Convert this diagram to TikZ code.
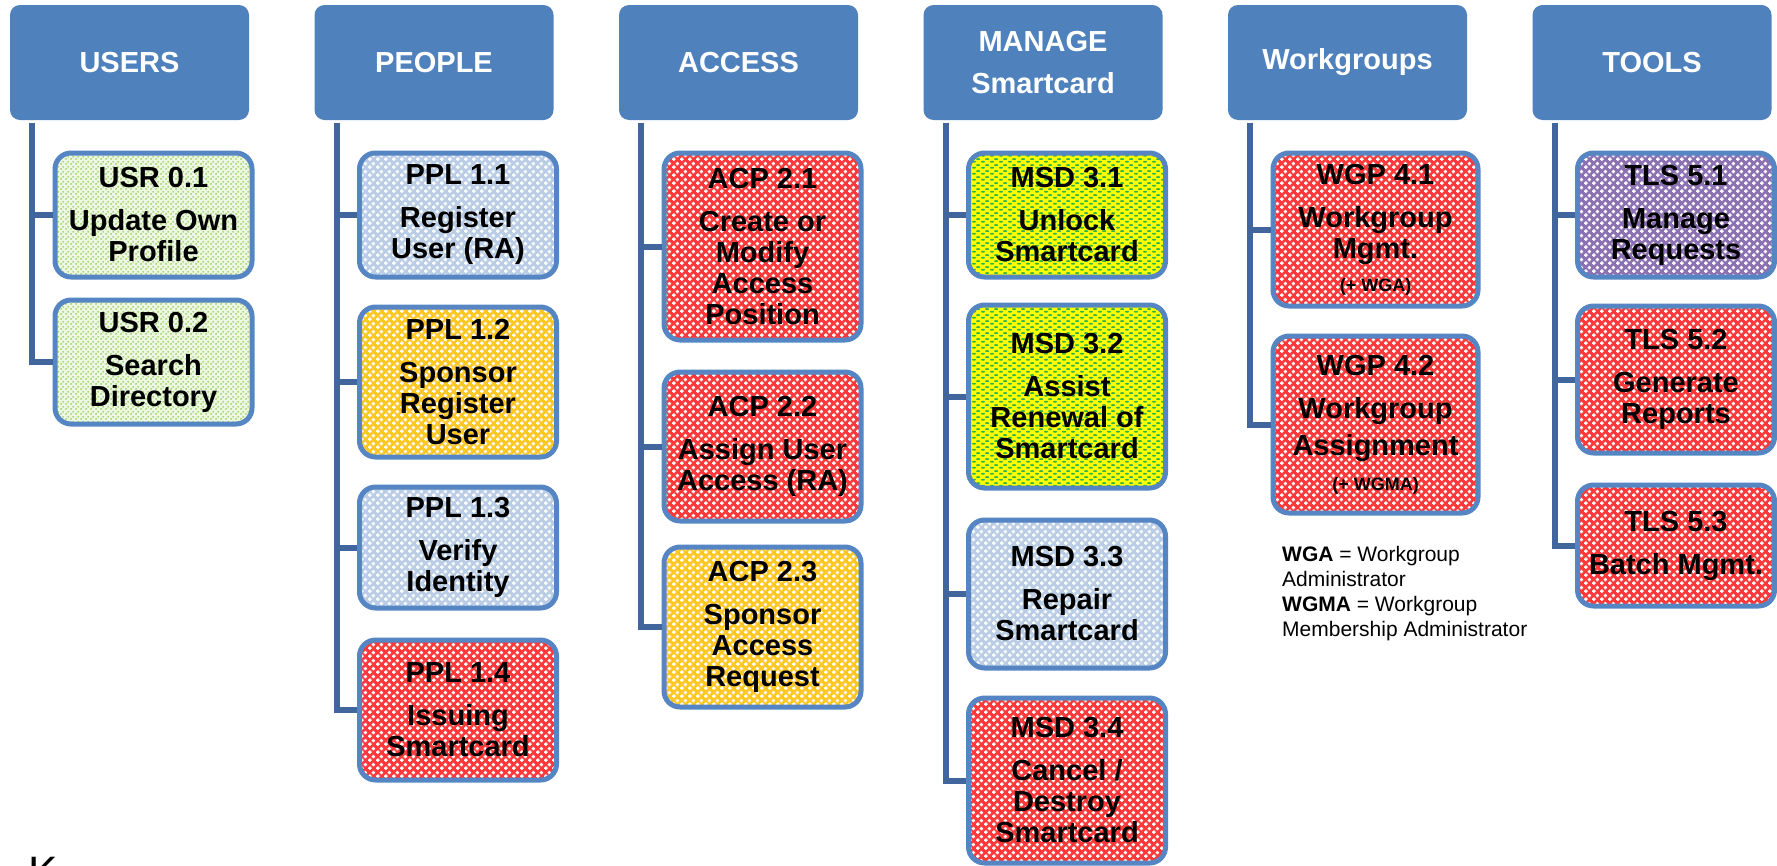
\documentclass[tikz,border=0pt]{standalone}
\usepackage{fontspec}
\setmainfont{Liberation Sans}
\usetikzlibrary{patterns}

\definecolor{hblue}{HTML}{4F81BD}
\definecolor{lcol}{HTML}{41669E}
\definecolor{bcol}{HTML}{5585C2}
\definecolor{redbase}{HTML}{FF3838}
\definecolor{bluebase}{HTML}{B9CDE6}
\definecolor{yelbase}{HTML}{FFC625}
\definecolor{purbase}{HTML}{8C70B4}
\definecolor{grnbase}{HTML}{EEF7E2}
\definecolor{grndot}{HTML}{8FCC58}
\definecolor{ygbase}{HTML}{FFFF00}
\definecolor{ygdash}{HTML}{2DB34A}

\pgfdeclarepatternformonly{sparkle}{\pgfqpoint{0pt}{0pt}}{\pgfqpoint{8pt}{8pt}}{\pgfqpoint{8pt}{8pt}}{%
  \pgfpathrectangle{\pgfqpoint{1.2pt}{0pt}}{\pgfqpoint{1.6pt}{4pt}}%
  \pgfpathrectangle{\pgfqpoint{0pt}{1.2pt}}{\pgfqpoint{4pt}{1.6pt}}%
  \pgfpathrectangle{\pgfqpoint{5.2pt}{4pt}}{\pgfqpoint{1.6pt}{4pt}}%
  \pgfpathrectangle{\pgfqpoint{4pt}{5.2pt}}{\pgfqpoint{4pt}{1.6pt}}%
  \pgfusepath{fill}}
\pgfdeclarepatternformonly{gdots}{\pgfqpoint{0pt}{0pt}}{\pgfqpoint{5pt}{5pt}}{\pgfqpoint{5pt}{5pt}}{%
  \pgfpathcircle{\pgfqpoint{1.25pt}{1.25pt}}{1.1pt}%
  \pgfpathcircle{\pgfqpoint{3.75pt}{3.75pt}}{1.1pt}%
  \pgfusepath{fill}}
\pgfdeclarepatternformonly{ygdashes}{\pgfqpoint{0pt}{0pt}}{\pgfqpoint{9pt}{6pt}}{\pgfqpoint{9pt}{6pt}}{%
  \pgfpathellipse{\pgfqpoint{2.25pt}{1.5pt}}{\pgfqpoint{2.3pt}{0pt}}{\pgfqpoint{0pt}{1.1pt}}%
  \pgfpathellipse{\pgfqpoint{6.75pt}{4.5pt}}{\pgfqpoint{2.3pt}{0pt}}{\pgfqpoint{0pt}{1.1pt}}%
  \pgfusepath{fill}}

\tikzset{
  hdr/.style={fill=hblue, rounded corners=10pt, minimum width=239pt, minimum height=115pt,
    text=white, font=\fontsize{29}{42}\selectfont\bfseries, align=center, inner sep=0pt},
  cbox/.style={draw=bcol, line width=5pt, rounded corners=16pt, minimum width=197pt,
    align=center, inner sep=0pt, font=\fontsize{29}{31}\selectfont\bfseries},
  cred/.style={cbox, preaction={fill=redbase}, pattern=sparkle, pattern color=white},
  cblue/.style={cbox, preaction={fill=bluebase}, pattern=sparkle, pattern color=white},
  cyel/.style={cbox, preaction={fill=yelbase}, pattern=sparkle, pattern color=white},
  cpur/.style={cbox, preaction={fill=purbase}, pattern=sparkle, pattern color=white},
  cgreen/.style={cbox, preaction={fill=grnbase}, pattern=gdots, pattern color=grndot},
  cyg/.style={cbox, preaction={fill=ygbase}, pattern=ygdashes, pattern color=ygdash},
  conn/.style={draw=lcol, line width=6pt}
}

\begin{document}
\begin{tikzpicture}[x=1pt, y=-1pt]
\useasboundingbox (0,0) rectangle (1777,865);

% headers
\node[hdr] (hU) at (129.5,62.5) {USERS};
\node[hdr] (hP) at (434,62.5) {PEOPLE};
\node[hdr] (hA) at (738.5,62.5) {ACCESS};
\node[hdr] (hM) at (1043,62.5) {MANAGE\\Smartcard};
\node[hdr] (hW) at (1347.5,62.5) {Workgroups};
\node[hdr] (hT) at (1652,62.5) {TOOLS};

% line tops
\coordinate (tU) at (32,123);
\coordinate (tP) at (336.5,123);
\coordinate (tA) at (641,123);
\coordinate (tM) at (945.5,123);
\coordinate (tW) at (1250,123);
\coordinate (tT) at (1554.5,123);

% USERS
\node[cgreen, minimum height=124pt] (u1) at (153.5,215) {USR 0.1\\[12pt]Update Own\\Profile};
\node[cgreen, minimum height=124pt] (u2) at (153.5,362) {USR 0.2\\[12pt]Search\\Directory};

% PEOPLE
\node[cblue, minimum height=124pt] (p1) at (458,215) {PPL 1.1\\[12pt]Register\\User (RA)};
\node[cyel, minimum height=150pt] (p2) at (458,382) {PPL 1.2\\[12pt]Sponsor\\Register\\User};
\node[cblue, minimum height=121pt] (p3) at (458,547.5) {PPL 1.3\\[12pt]Verify\\Identity};
\node[cred, minimum height=140pt] (p4) at (458,710) {PPL 1.4\\[12pt]Issuing\\Smartcard};

% ACCESS
\node[cred, minimum height=187pt] (a1) at (762.5,246.5) {ACP 2.1\\[12pt]Create or\\Modify\\Access\\Position};
\node[cred, minimum height=149pt] (a2) at (762.5,446.5) {ACP 2.2\\[12pt]Assign User\\Access (RA)};
\node[cyel, minimum height=160pt] (a3) at (762.5,627) {ACP 2.3\\[12pt]Sponsor\\Access\\Request};

% MANAGE
\node[cyg, minimum height=124pt] (m1) at (1067,215) {MSD 3.1\\[12pt]Unlock\\Smartcard};
\node[cyg, minimum height=183pt] (m2) at (1067,396.5) {MSD 3.2\\[12pt]Assist\\Renewal of\\Smartcard};
\node[cblue, minimum height=148pt] (m3) at (1067,594) {MSD 3.3\\[12pt]Repair\\Smartcard};
\node[cred, minimum height=165pt] (m4) at (1067,780.5) {MSD 3.4\\[12pt]Cancel /\\Destroy\\Smartcard};

% Workgroups
\node[cred, minimum width=205pt, minimum height=153pt] (w1) at (1375.5,229.5) {WGP 4.1\\[12pt]Workgroup\\Mgmt.\\[2pt]{\fontsize{18}{20}\selectfont (+ WGA)}};
\node[cred, minimum width=205pt, minimum height=177pt] (w2) at (1375.5,424.5) {WGP 4.2\\[12pt]Workgroup\\[6pt]Assignment\\[4pt]{\fontsize{18}{20}\selectfont (+ WGMA)}};

% TOOLS
\node[cpur, minimum height=124pt] (t1) at (1676,215) {TLS 5.1\\[12pt]Manage\\Requests};
\node[cred, minimum height=147pt] (t2) at (1676,379.5) {TLS 5.2\\[12pt]Generate\\Reports};
\node[cred, minimum height=121pt] (t3) at (1676,545.5) {TLS 5.3\\[12pt]Batch Mgmt.};

% connectors
\draw[conn] (tU) |- (u2.west);
\draw[conn] (tU |- u1.west) -- (u1.west);
\draw[conn] (tP) |- (p4.west);
\draw[conn] (tP |- p1.west) -- (p1.west);
\draw[conn] (tP |- p2.west) -- (p2.west);
\draw[conn] (tP |- p3.west) -- (p3.west);
\draw[conn] (tA) |- (a3.west);
\draw[conn] (tA |- a1.west) -- (a1.west);
\draw[conn] (tA |- a2.west) -- (a2.west);
\draw[conn] (tM) |- (m4.west);
\draw[conn] (tM |- m1.west) -- (m1.west);
\draw[conn] (tM |- m2.west) -- (m2.west);
\draw[conn] (tM |- m3.west) -- (m3.west);
\draw[conn] (tW) |- (w2.west);
\draw[conn] (tW |- w1.west) -- (w1.west);
\draw[conn] (tT) |- (t3.west);
\draw[conn] (tT |- t1.west) -- (t1.west);
\draw[conn] (tT |- t2.west) -- (t2.west);

% legend
\node[anchor=north west, inner sep=0pt, align=left, font=\fontsize{21}{25}\selectfont] (leg) at (1282,546)
  {\textbf{WGA} = Workgroup\\Administrator\\\textbf{WGMA} = Workgroup\\Membership Administrator};

% cropped letter (cut by the lower edge, as in the reference)
\node[anchor=base west, inner sep=0pt, font=\fontsize{44}{44}\selectfont] (kk) at (28,887) {K};
\end{tikzpicture}
\end{document}
